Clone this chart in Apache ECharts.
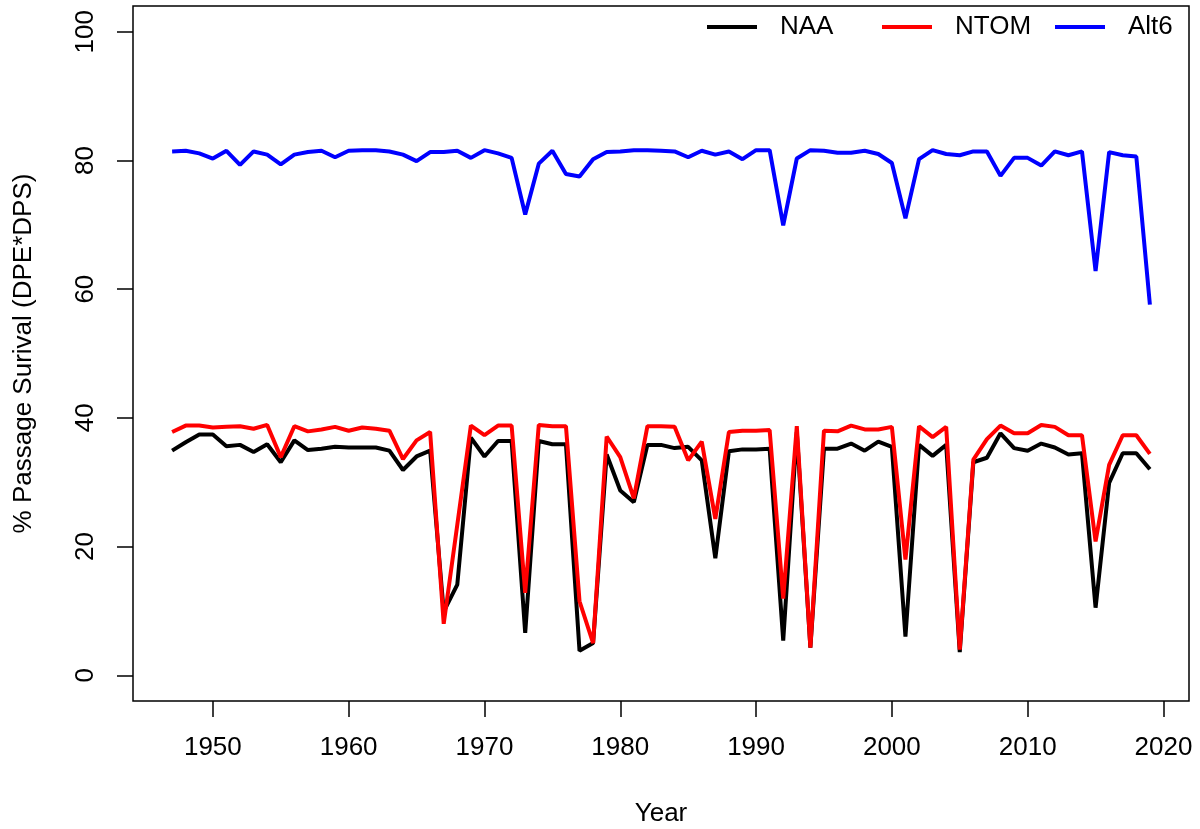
<!DOCTYPE html>
<html>
<head>
<meta charset="utf-8">
<script src="https://cdn.jsdelivr.net/npm/echarts@6/dist/echarts.min.js"></script>
<style>html,body{margin:0;padding:0;background:#fff;}#c{width:1200px;height:829px;}</style>
</head>
<body>
<div id="c"></div>
<script>
const years = [1947,1948,1949,1950,1951,1952,1953,1954,1955,1956,1957,1958,1959,1960,1961,1962,1963,1964,1965,1966,1967,1968,1969,1970,1971,1972,1973,1974,1975,1976,1977,1978,1979,1980,1981,1982,1983,1984,1985,1986,1987,1988,1989,1990,1991,1992,1993,1994,1995,1996,1997,1998,1999,2000,2001,2002,2003,2004,2005,2006,2007,2008,2009,2010,2011,2012,2013,2014,2015,2016,2017,2018,2019];
const naa = [34.9,36.2,37.4,37.4,35.6,35.8,34.7,35.9,33.1,36.5,35.0,35.2,35.5,35.4,35.4,35.4,34.9,31.9,34.0,34.9,9.9,14.1,36.9,34.0,36.4,36.4,6.6,36.4,35.9,35.9,3.8,5.0,34.3,28.7,26.9,35.8,35.8,35.3,35.5,33.4,18.2,34.8,35.1,35.1,35.2,5.4,37.8,4.3,35.2,35.2,36.0,34.9,36.3,35.5,6.0,35.8,34.1,35.8,3.6,33.1,33.8,37.6,35.3,34.9,36.0,35.4,34.3,34.5,10.5,29.9,34.5,34.5,32.0];
const ntom = [37.8,38.8,38.8,38.5,38.6,38.7,38.3,38.9,33.9,38.7,37.9,38.2,38.6,38.0,38.5,38.3,38.0,33.6,36.5,37.8,8.0,23.4,38.8,37.3,38.8,38.8,12.8,38.9,38.7,38.7,11.5,5.0,37.1,33.9,27.5,38.7,38.7,38.6,33.4,36.3,24.3,37.8,38.0,38.0,38.1,11.9,38.7,4.3,38.0,37.9,38.8,38.2,38.2,38.6,18.0,38.7,37.0,38.6,4.0,33.5,36.7,38.8,37.6,37.6,38.9,38.6,37.3,37.3,20.8,32.7,37.3,37.3,34.4];
const alt6 = [81.4,81.5,81.1,80.3,81.5,79.3,81.4,80.9,79.4,80.9,81.3,81.5,80.5,81.5,81.6,81.6,81.4,80.9,79.9,81.3,81.3,81.5,80.4,81.6,81.1,80.4,71.6,79.5,81.5,77.9,77.5,80.2,81.3,81.4,81.6,81.6,81.5,81.4,80.5,81.5,80.9,81.4,80.2,81.6,81.6,69.9,80.3,81.6,81.5,81.2,81.2,81.5,81.0,79.6,71.0,80.2,81.6,81.0,80.8,81.4,81.4,77.6,80.4,80.4,79.2,81.4,80.8,81.4,62.8,81.3,80.8,80.6,57.6];
const xTicks = [1950,1960,1970,1980,1990,2000,2010,2020];
const yTicks = [0,20,40,60,80,100];
const seriesNames = ['NAA','NTOM','Alt6'];
const seriesColors = ['#000000','#ff0000','#0000ff'];

const FONT = 'Liberation Sans, Arial, sans-serif';
const pairs = arr => years.map((y,i)=>[y,arr[i]]);
const allData = [naa, ntom, alt6];
const legendLeft = [707, 882, 1055];

const chart = echarts.init(document.getElementById('c'), null, {renderer:'canvas'});
chart.setOption({
  animation:false,
  backgroundColor:'#fff',
  grid:{left:133,right:11,top:6,bottom:128,show:true,borderColor:'#000',borderWidth:1.5,backgroundColor:'transparent',containLabel:false,outerBoundsMode:'none'},
  legend: seriesNames.map((n,i)=>({
    data:[{name:n,icon:'rect'}],
    left:legendLeft[i], top:14, padding:0,
    itemWidth:50, itemHeight:4,
    textStyle:{fontFamily:FONT,fontSize:26,color:'#000',padding:[0,0,0,18],lineHeight:26},
    selectedMode:false
  })),
  xAxis:{
    type:'value', min:1944.12, max:2021.88,
    name:'Year', nameLocation:'middle', nameGap:100,
    nameTextStyle:{fontFamily:FONT,fontSize:26,color:'#000'},
    axisLine:{show:false,onZero:false},
    axisTick:{show:true,length:16,customValues:xTicks,lineStyle:{color:'#000',width:1.5}},
    axisLabel:{customValues:xTicks,formatter:v=>String(v),fontFamily:FONT,fontSize:26,color:'#000',margin:34},
    splitLine:{show:false}
  },
  yAxis:{
    type:'value', min:-4, max:104,
    name:'% Passage Surival (DPE*DPS)', nameLocation:'middle', nameGap:96,
    nameTextStyle:{fontFamily:FONT,fontSize:26,color:'#000'},
    axisLine:{show:false,onZero:false},
    axisTick:{show:true,length:16,customValues:yTicks,lineStyle:{color:'#000',width:1.5}},
    axisLabel:{customValues:yTicks,formatter:v=>String(v),rotate:90,fontFamily:FONT,fontSize:26,color:'#000',margin:34},
    splitLine:{show:false}
  },
  series: seriesNames.map((n,i)=>({
    name:n, type:'line', data:pairs(allData[i]),
    symbol:'none', lineStyle:{color:seriesColors[i],width:4},
    itemStyle:{color:seriesColors[i]}, z:2+i
  }))
});
</script>
</body>
</html>
